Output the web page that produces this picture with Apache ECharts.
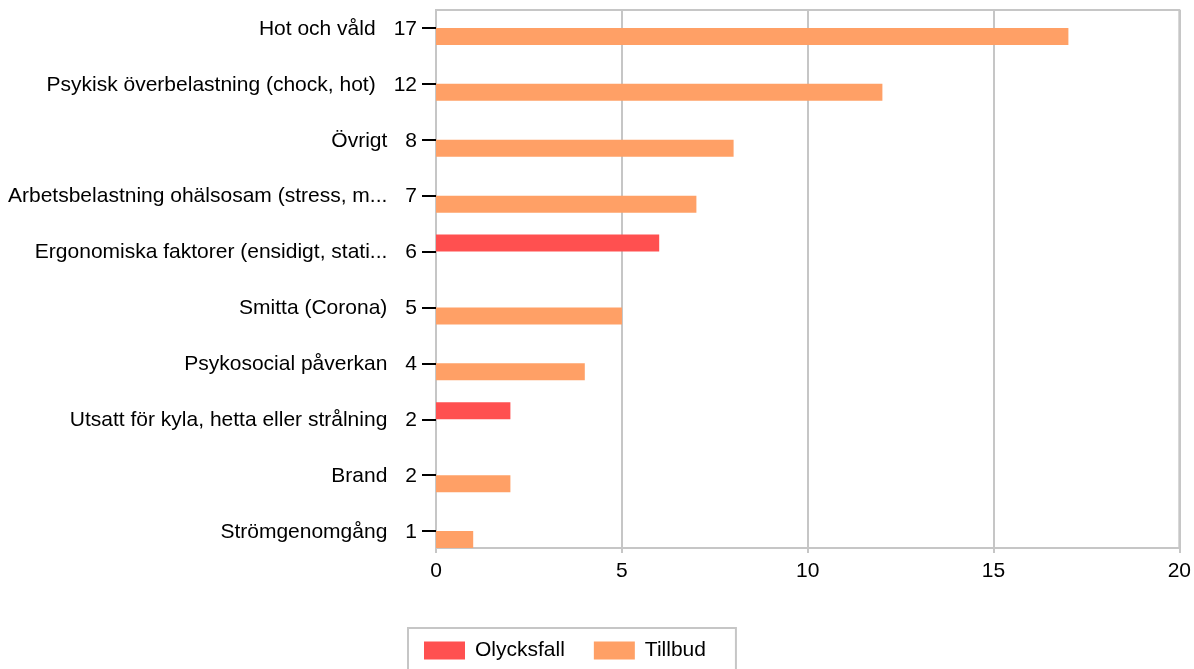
<!DOCTYPE html>
<html>
<head>
<meta charset="utf-8">
<script src="https://cdn.jsdelivr.net/npm/echarts@6/dist/echarts.min.js"></script>
<style>
  html, body { margin: 0; padding: 0; background: #fff; }
  #chart { width: 1194px; height: 669px; }
</style>
</head>
<body>
<div id="chart"></div>
<script>
// categories top to bottom
const categories = [
  'Hot och våld',
  'Psykisk överbelastning (chock, hot)',
  'Övrigt',
  'Arbetsbelastning ohälsosam (stress, m...',
  'Ergonomiska faktorer (ensidigt, stati...',
  'Smitta (Corona)',
  'Psykosocial påverkan',
  'Utsatt för kyla, hetta eller strålning',
  'Brand',
  'Strömgenomgång'
]
const totals = [17, 12, 8, 7, 6, 5, 4, 2, 2, 1]
const olycksfall = [null, null, null, null, 6, null, null, 2, null, null]
const tillbud = [17, 12, 8, 7, null, 5, 4, null, 2, 1]
const xTicks = { min: 0, max: 20, interval: 5 }

const chart = echarts.init(document.getElementById('chart'))
const font = 'Liberation Sans, Arial, sans-serif'
const grey = '#c6c6c6'
const fs = 21

chart.setOption({
  animation: false,
  textStyle: { fontFamily: font },
  grid: [
    // frame + x axis
    { left: 436, right: 14, top: 10, bottom: 121, show: true, borderColor: grey, borderWidth: 2 },
    // bars + category labels (band centres line up with ticks)
    { left: 436, right: 14, top: -1, height: 560 }
  ],
  legend: {
    data: ['Olycksfall', 'Tillbud'],
    icon: 'rect',
    left: 408,
    top: 628,
    padding: [12, 30, 14, 16],
    itemWidth: 41,
    itemHeight: 18,
    itemGap: 29,
    borderColor: grey,
    borderWidth: 2,
    textStyle: { fontSize: fs, color: '#000', fontFamily: font, padding: [0, 0, 0, 5] }
  },
  xAxis: [
    {
      gridIndex: 0,
      type: 'value',
      min: xTicks.min,
      max: xTicks.max,
      interval: xTicks.interval,
      axisLine: { show: true, lineStyle: { color: grey, width: 2 } },
      axisTick: { show: true, length: 5, lineStyle: { color: grey, width: 2 } },
      splitLine: { show: true, lineStyle: { color: grey, width: 2 } },
      axisLabel: { fontSize: fs, color: '#000', margin: 13 }
    },
    {
      gridIndex: 1,
      type: 'value',
      min: xTicks.min,
      max: xTicks.max,
      show: false
    }
  ],
  yAxis: [
    {
      gridIndex: 0,
      type: 'value',
      show: false
    },
    {
      gridIndex: 1,
      type: 'category',
      inverse: true,
      data: categories,
      axisLine: { show: false },
      axisTick: { show: true, alignWithLabel: true, length: 14, lineStyle: { color: '#000', width: 2 } },
      axisLabel: {
        margin: 19,
        formatter: (v, i) => '{n|' + v + '}{c|' + totals[i] + '}',
        rich: {
          n: { fontSize: fs, color: '#000', fontFamily: font, padding: [2, 0, 0, 0] },
          c: { fontSize: fs, color: '#000', fontFamily: font, padding: [2, 0, 0, 18] }
        }
      }
    }
  ],
  series: [
    {
      name: 'Olycksfall',
      type: 'bar',
      xAxisIndex: 1,
      yAxisIndex: 1,
      barWidth: 17,
      barGap: '0%',
      itemStyle: { color: '#ff5050' },
      data: olycksfall
    },
    {
      name: 'Tillbud',
      type: 'bar',
      xAxisIndex: 1,
      yAxisIndex: 1,
      barWidth: 17,
      barGap: '0%',
      itemStyle: { color: '#ffa066' },
      data: tillbud
    }
  ]
})
</script>
</body>
</html>
